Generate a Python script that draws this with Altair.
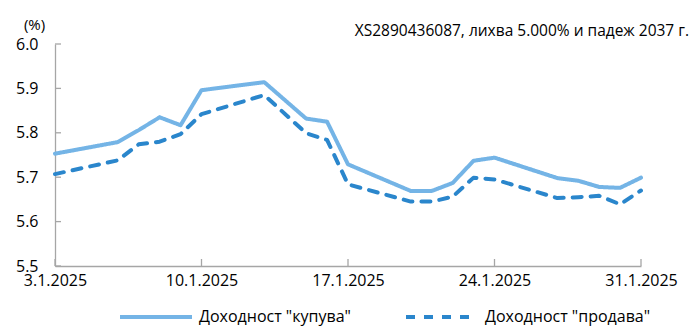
import altair as alt
import pandas as pd

days = [3, 6, 7, 8, 9, 10, 13, 15, 16, 17, 20, 21, 22, 23, 24, 27, 28, 29, 30, 31]
buy = [5.753, 5.779, 5.806, 5.835, 5.817, 5.896, 5.914, 5.832, 5.825, 5.729,
       5.669, 5.669, 5.687, 5.737, 5.744, 5.698, 5.692, 5.678, 5.676, 5.699]
sell = [5.707, 5.738, 5.774, 5.780, 5.797, 5.842, 5.885, 5.799, 5.784, 5.684,
        5.645, 5.645, 5.656, 5.699, 5.695, 5.653, 5.655, 5.658, 5.639, 5.670]
series_names = ['Доходност "купува"', 'Доходност "продава"']
x_ticks = [3, 10, 17, 24, 31]
y_ticks = [5.5, 5.6, 5.7, 5.8, 5.9, 6.0]
title_text = ["XS2890436087, лихва 5.000% и падеж 2037 г."]

FONT = "Open Sans"
W, H = 586, 222

rows = []
for d, b, s in zip(days, buy, sell):
    rows.append({"day": d, "value": b, "series": series_names[0]})
    rows.append({"day": d, "value": s, "series": series_names[1]})
df = pd.DataFrame(rows)

xscale = alt.Scale(domain=[3, 31], nice=False, zero=False)
yscale = alt.Scale(domain=[5.5, 6.0], nice=False, zero=False)

lines = alt.Chart(df).mark_line(strokeWidth=4, strokeCap="round", strokeJoin="round").encode(
    x=alt.X("day:Q", scale=xscale,
            axis=alt.Axis(values=x_ticks, labelExpr="datum.value + '.1.2025'", title=None,
                          grid=False, ticks=False, domainColor="#a6a6a6", domainWidth=1.3,
                          labelFont=FONT, labelFontSize=16, labelColor="#000000",
                          labelPadding=6, labelFlush=False)),
    y=alt.Y("value:Q", scale=yscale,
            axis=alt.Axis(values=y_ticks, format=".1f", title="(%)", titleAngle=0,
                          titleX=-21, titleY=-20, titleAlign="center", titleBaseline="middle",
                          titleFont=FONT, titleFontSize=15, titleFontWeight="normal",
                          titleColor="#000000",
                          grid=False, ticks=False, domainColor="#a6a6a6", domainWidth=1.3,
                          labelFont=FONT, labelFontSize=16, labelColor="#000000",
                          labelPadding=17)),
    color=alt.Color("series:N", scale=alt.Scale(domain=series_names, range=["#74B4E6", "#2A86CC"]),
                    legend=alt.Legend(title=None, orient="none", direction="horizontal",
                                      legendX=63, legendY=235,
                                      symbolType="stroke", symbolSize=5184, symbolStrokeWidth=4,
                                      labelFont=FONT, labelFontSize=16, labelColor="#000000",
                                      labelOffset=5, labelLimit=400, columnPadding=47)),
    strokeDash=alt.StrokeDash("series:N",
                              scale=alt.Scale(domain=series_names, range=[[1, 0], [9, 9]]),
                              legend=None),
)

ytick_df = pd.DataFrame({"v": y_ticks})
xtick_df = pd.DataFrame({"d": x_ticks})

yticks = alt.Chart(ytick_df).mark_rule(color="#a6a6a6", strokeWidth=1.3).encode(
    y=alt.Y("v:Q", scale=yscale), x=alt.value(0), x2=alt.value(6))
xticks = alt.Chart(xtick_df).mark_rule(color="#a6a6a6", strokeWidth=1.3).encode(
    x=alt.X("d:Q", scale=xscale), y=alt.value(H), y2=alt.value(H - 7))

title = alt.Chart(pd.DataFrame({"t": title_text})).mark_text(
    align="right", baseline="middle", font=FONT, fontSize=15.5, color="#000000"
).encode(text="t:N", x=alt.value(W + 48), y=alt.value(-13))

chart = alt.layer(yticks, xticks, lines, title).properties(
    width=W, height=H,
    autosize=alt.AutoSizeParams(type="none"),
    padding={"left": 47, "top": 36, "right": 49, "bottom": 60},
).configure_view(stroke=None)

chart.save("out.html", embed_options={"renderer": "svg", "actions": False})
